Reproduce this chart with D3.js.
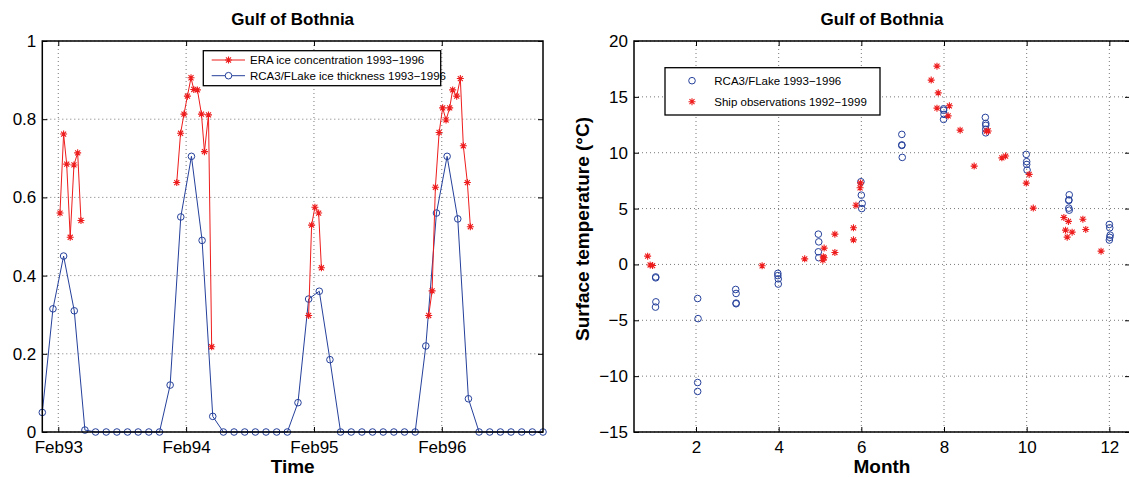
<!DOCTYPE html>
<html><head><meta charset="utf-8">
<script src="https://cdn.jsdelivr.net/npm/d3@7"></script>
<style>
html,body{margin:0;padding:0;background:#fff;}
svg{display:block;font-family:"Liberation Sans",Arial,Helvetica,sans-serif;}
</style></head><body>
<svg id="fig" width="1129" height="477"></svg>
<script>
// ---------- Ice panel (x = month index, 0 = mid-December 1992) ----------
const iceTickPos = [1.5, 13.5, 25.5, 37.5];
const iceTickLabels = ["Feb93", "Feb94", "Feb95", "Feb96"];
const iceYTicks = [0, 0.2, 0.4, 0.6, 0.8, 1];

// RCA3/FLake ice thickness, one value per month
const rcaIceThickness = [
  0.05, 0.315, 0.45, 0.31, 0.005, 0, 0, 0, 0, 0, 0, 0,
  0.12, 0.55, 0.705, 0.49, 0.04, 0, 0, 0, 0, 0, 0, 0,
  0.075, 0.34, 0.36, 0.185, 0, 0, 0, 0, 0, 0, 0, 0,
  0.22, 0.56, 0.705, 0.545, 0.085, 0, 0, 0, 0, 0, 0, 0
];

// ERA ice concentration (dekadal); null separates winters
const eraTime = [
  1.66, 2.0, 2.29, 2.62, 2.97, 3.32, 3.63, null,
  12.62, 12.98, 13.3, 13.62, 13.96, 14.22, 14.56, 14.94, 15.22, 15.6, 15.9, null,
  25.0, 25.28, 25.59, 25.94, 26.2, null,
  36.27, 36.59, 36.9, 37.25, 37.58, 37.9, 38.24, 38.52, 38.9, 39.24, 39.52, 39.9, 40.18
];
const eraConc = [
  0.56, 0.762, 0.685, 0.498, 0.683, 0.714, 0.541, null,
  0.638, 0.764, 0.813, 0.859, 0.906, 0.876, 0.875, 0.813, 0.717, 0.811, 0.218, null,
  0.298, 0.529, 0.575, 0.56, 0.42, null,
  0.298, 0.361, 0.626, 0.766, 0.829, 0.798, 0.829, 0.875, 0.859, 0.904, 0.732, 0.638, 0.525
];

// ---------- Temperature panel ----------
const monthTicks = [2, 4, 6, 8, 10, 12];
const tempTicks = [-15, -10, -5, 0, 5, 10, 15, 20];

const rcaMonth = [
  1.025, 1.025, 1.03, 1.02,
  2.04, 2.05, 2.04, 2.04,
  2.96, 2.97, 2.97, 2.97,
  3.98, 3.98, 3.99, 3.99,
  4.96, 4.97, 4.96, 4.97,
  5.99, 6.0, 6.02, 6.01,
  6.98, 6.98, 6.98, 6.99,
  7.99, 7.99, 8.0, 7.99,
  9.0, 9.01, 9.01, 9.01, 9.01,
  9.99, 10.0, 10.0, 10.01,
  11.03, 11.02, 11.02, 11.02, 11.03,
  12.0, 12.01, 12.02, 12.01, 12.0
];
const rcaTemp = [
  -1.12, -1.2, -3.35, -3.82,
  -3.05, -4.85, -10.57, -11.37,
  -2.24, -2.6, -3.46, -3.52,
  -0.8, -1.0, -1.29, -1.76,
  2.71, 2.02, 1.13, 0.6,
  7.4, 6.2, 5.46, 5.0,
  11.64, 10.7, 10.65, 9.58,
  13.93, 13.8, 13.43, 12.98,
  13.16, 12.62, 12.45, 12.1, 11.78,
  9.85, 9.2, 8.95, 8.45,
  6.23, 5.78, 5.72, 5.04, 4.86,
  3.58, 3.28, 2.62, 2.42, 2.18
];

const shipMonth = [
  0.83, 0.89, 0.95, 3.6, 4.63, 5.1, 5.08, 5.1, 5.07, 5.36, 5.36,
  5.81, 5.81, 5.87, 5.98, 5.97, 7.69, 7.83, 7.86, 7.83, 8.13, 8.1,
  8.39, 8.73, 9.03, 9.07, 9.4, 9.49, 10.06, 9.99, 10.16,
  10.9, 11.01, 10.94, 10.98, 11.1, 11.36, 11.43, 11.8
];
const shipTemp = [
  0.74, -0.05, -0.1, -0.12, 0.5, 1.46, 0.68, 0.6, 0.38, 2.71, 1.07,
  3.28, 2.2, 5.3, 7.3, 6.86, 16.5, 17.75, 15.36, 13.99, 14.2, 13.3,
  12.02, 8.8, 11.93, 11.95, 9.54, 9.7, 8.06, 7.28, 5.04,
  4.2, 3.85, 3.07, 2.44, 2.89, 4.05, 3.13, 1.19
];

// ---------- drawing ----------
const RED = "#ee1c1c";
const BLUE = "#25409b";
const svg = d3.select("#fig");
svg.append("rect").attr("width", 1129).attr("height", 477).attr("fill", "#fff");

function starPath(r) {
  const d = r * 0.72;
  return `M${-r},0L${r},0M0,${-r}L0,${r}M${-d},${-d}L${d},${d}M${-d},${d}L${d},${-d}`;
}

function frameAndGrid(g, x, y, xt, yt, xFmt, yFmt, box) {
  const [x0, x1] = x.range();
  const [y1, y0] = y.range();
  // dotted grid
  g.append("g").selectAll("line").data(xt).join("line")
    .attr("x1", d => x(d)).attr("x2", d => x(d)).attr("y1", y0).attr("y2", y1)
    .attr("stroke", "#555").attr("stroke-width", 0.8).attr("stroke-dasharray", "1,3");
  g.append("g").selectAll("line").data(yt).join("line")
    .attr("y1", d => y(d)).attr("y2", d => y(d)).attr("x1", x0).attr("x2", x1)
    .attr("stroke", "#555").attr("stroke-width", 0.8).attr("stroke-dasharray", "1,3");
}

function axesOnTop(g, x, y, xt, yt, xFmt, yFmt) {
  const [x0, x1] = x.range();
  const [y1, y0] = y.range();
  const bottom = g.append("g").attr("transform", `translate(0,${y1})`)
    .call(d3.axisBottom(x).tickValues(xt).tickFormat(xFmt).tickSize(-5).tickPadding(9));
  const top = g.append("g").attr("transform", `translate(0,${y0})`)
    .call(d3.axisTop(x).tickValues(xt).tickFormat("").tickSize(-5));
  const left = g.append("g").attr("transform", `translate(${x0},0)`)
    .call(d3.axisLeft(y).tickValues(yt).tickFormat(yFmt).tickSize(-5).tickPadding(6));
  const right = g.append("g").attr("transform", `translate(${x1},0)`)
    .call(d3.axisRight(y).tickValues(yt).tickFormat("").tickSize(-5));
  [bottom, top, left, right].forEach(a => {
    a.select(".domain").remove();
    a.selectAll(".tick line").attr("stroke", "#000").attr("stroke-width", 1);
    a.selectAll("text").attr("font-size", 17).attr("fill", "#000")
      .attr("font-family", "'Liberation Sans', Arial, sans-serif");
  });
  g.append("rect").attr("x", x0).attr("y", y0).attr("width", x1 - x0).attr("height", y1 - y0)
    .attr("fill", "none").attr("stroke", "#000").attr("stroke-width", 1.5);
}

// ===== Left: ice =====
const gL = svg.append("g");
const xL = d3.scaleLinear().domain([0, rcaIceThickness.length - 1]).range([42.3, 543]);
const yL = d3.scaleLinear().domain([0, 1]).range([432, 41]);
const iceFmt = d => iceTickLabels[iceTickPos.indexOf(d)];
frameAndGrid(gL, xL, yL, iceTickPos, iceYTicks);

gL.append("path")
  .attr("d", d3.line().x((d, i) => xL(i)).y(d => yL(d))(rcaIceThickness))
  .attr("fill", "none").attr("stroke", BLUE).attr("stroke-width", 1);
gL.append("g").selectAll("circle").data(rcaIceThickness).join("circle")
  .attr("cx", (d, i) => xL(i)).attr("cy", d => yL(d)).attr("r", 3.3)
  .attr("fill", "none").attr("stroke", BLUE).attr("stroke-width", 1);

const eraPts = eraTime.map((t, i) => ({ t, v: eraConc[i] }));
gL.append("path")
  .attr("d", d3.line().defined(d => d.t !== null && d.v !== null)
    .x(d => xL(d.t)).y(d => yL(d.v))(eraPts))
  .attr("fill", "none").attr("stroke", RED).attr("stroke-width", 1);
gL.append("g").selectAll("path").data(eraPts.filter(d => d.t !== null)).join("path")
  .attr("transform", d => `translate(${xL(d.t)},${yL(d.v)})`)
  .attr("d", starPath(3.5)).attr("stroke", RED).attr("stroke-width", 1.1).attr("fill", "none");

axesOnTop(gL, xL, yL, iceTickPos, iceYTicks, iceFmt, d => d3.format("")(d));

// legend (left)
const lgL = gL.append("g");
lgL.append("rect").attr("x", 203.3).attr("y", 50.7).attr("width", 237.4).attr("height", 35)
  .attr("fill", "#fff").attr("stroke", "#000").attr("stroke-width", 1.3);
[
  { y: 60, color: RED, star: true, text: "ERA ice concentration 1993−1996" },
  { y: 75.7, color: BLUE, star: false, text: "RCA3/FLake ice thickness 1993−1996" }
].forEach(e => {
  lgL.append("line").attr("x1", 211.7).attr("x2", 245).attr("y1", e.y).attr("y2", e.y)
    .attr("stroke", e.color).attr("stroke-width", 1);
  if (e.star) {
    lgL.append("path").attr("transform", `translate(228.5,${e.y})`).attr("d", starPath(3.5))
      .attr("stroke", e.color).attr("stroke-width", 1.1).attr("fill", "none");
  } else {
    lgL.append("circle").attr("cx", 228.5).attr("cy", e.y).attr("r", 3.3)
      .attr("fill", "#fff").attr("stroke", e.color).attr("stroke-width", 1);
  }
  lgL.append("text").attr("x", 250).attr("y", e.y + 4).attr("font-size", 11.5).text(e.text);
});

gL.append("text").attr("x", 292.7).attr("y", 25).attr("text-anchor", "middle")
  .attr("font-size", 17).attr("font-weight", "bold").text("Gulf of Bothnia");
gL.append("text").attr("x", 292.7).attr("y", 473).attr("text-anchor", "middle")
  .attr("font-size", 19).attr("font-weight", "bold").text("Time");

// ===== Right: surface temperature =====
const gR = svg.append("g");
const xR = d3.scaleLinear().domain([0.5, 12.5]).range([634, 1130]);
const yR = d3.scaleLinear().domain([-15, 20]).range([432, 41]);
frameAndGrid(gR, xR, yR, monthTicks, tempTicks);

gR.append("g").selectAll("circle").data(rcaMonth.map((m, i) => [m, rcaTemp[i]])).join("circle")
  .attr("cx", d => xR(d[0])).attr("cy", d => yR(d[1])).attr("r", 3.3)
  .attr("fill", "none").attr("stroke", BLUE).attr("stroke-width", 1);
gR.append("g").selectAll("path").data(shipMonth.map((m, i) => [m, shipTemp[i]])).join("path")
  .attr("transform", d => `translate(${xR(d[0])},${yR(d[1])})`)
  .attr("d", starPath(3.5)).attr("stroke", RED).attr("stroke-width", 1.1).attr("fill", "none");

axesOnTop(gR, xR, yR, monthTicks, tempTicks, d => d, d => (d < 0 ? "−" + Math.abs(d) : d));

// legend (right)
const lgR = gR.append("g");
lgR.append("rect").attr("x", 665).attr("y", 67.7).attr("width", 215).attr("height", 47.3)
  .attr("fill", "#fff").attr("stroke", "#000").attr("stroke-width", 1.3);
lgR.append("circle").attr("cx", 692).attr("cy", 80.7).attr("r", 3.3)
  .attr("fill", "none").attr("stroke", BLUE).attr("stroke-width", 1);
lgR.append("path").attr("transform", "translate(692,101.7)").attr("d", starPath(3.5))
  .attr("stroke", RED).attr("stroke-width", 1.1).attr("fill", "none");
lgR.append("text").attr("x", 714.3).attr("y", 84.7).attr("font-size", 11.5).text("RCA3/FLake 1993−1996");
lgR.append("text").attr("x", 714.3).attr("y", 105.7).attr("font-size", 11.5).text("Ship observations 1992−1999");

gR.append("text").attr("x", 882).attr("y", 25).attr("text-anchor", "middle")
  .attr("font-size", 17).attr("font-weight", "bold").text("Gulf of Bothnia");
gR.append("text").attr("x", 882).attr("y", 473).attr("text-anchor", "middle")
  .attr("font-size", 19).attr("font-weight", "bold").text("Month");
gR.append("text").attr("transform", "translate(589,229) rotate(-90)").attr("text-anchor", "middle")
  .attr("font-size", 19).attr("font-weight", "bold").text("Surface temperature (°C)");
</script>
</body></html>
